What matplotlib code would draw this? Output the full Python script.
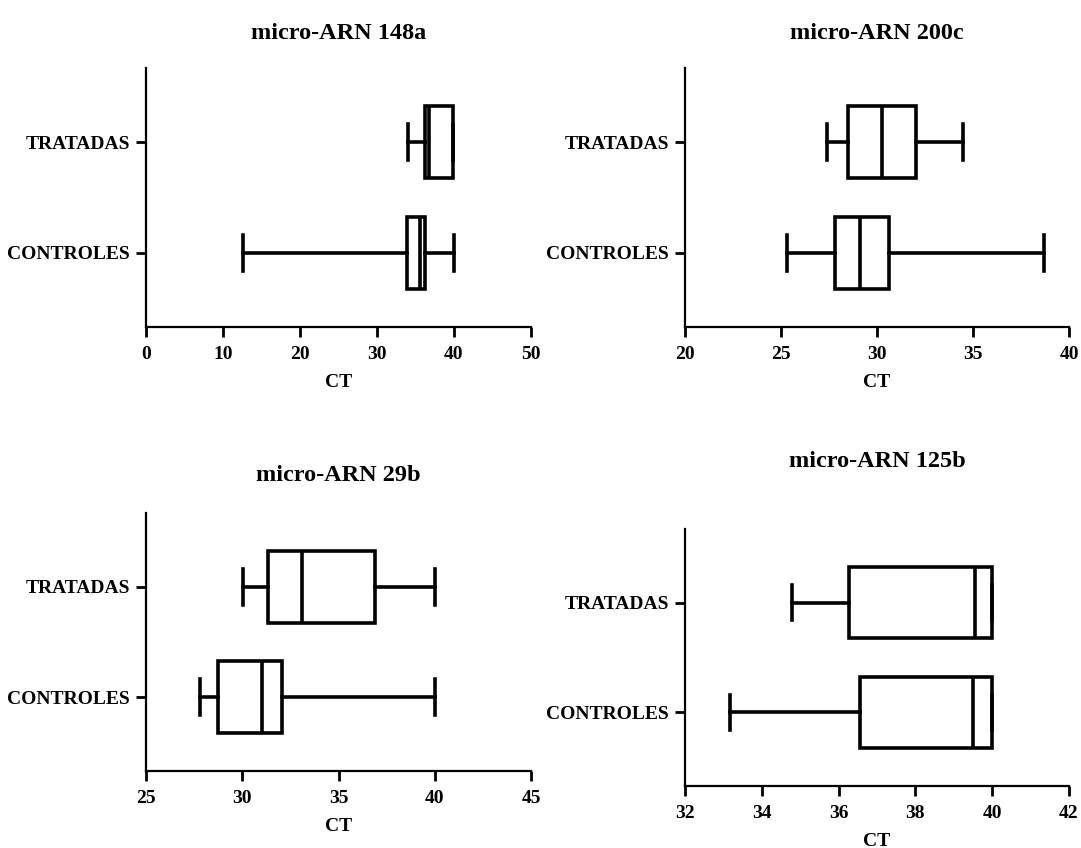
import matplotlib
matplotlib.use("Agg")
import matplotlib.pyplot as plt

plt.rcParams['font.family'] = ['Liberation Serif', 'DejaVu Serif']
plt.rcParams['font.weight'] = 'bold'

titles = ["micro-ARN 148a", "micro-ARN 200c", "micro-ARN 29b", "micro-ARN 125b"]
groups = ["CONTROLES", "TRATADAS"]

# per panel: [CONTROLES, TRATADAS]
whislo = [[12.6, 34.0], [25.3, 27.4], [27.8, 30.05], [33.18, 34.79]]
q1     = [[33.9, 36.2], [27.8, 28.5], [28.75, 31.35], [36.55, 36.27]]
med    = [[35.6, 36.8], [29.1, 30.25], [31.05, 33.1], [39.5, 39.55]]
q3     = [[36.2, 39.9], [30.6, 32.05], [32.05, 36.9], [40.0, 40.0]]
whishi = [[40.0, 39.9], [38.7, 34.5], [40.0, 40.0], [40.0, 40.0]]

xlims = [(0, 50), (20, 40), (25, 45), (32, 42)]
xticks = [[0, 10, 20, 30, 40, 50], [20, 25, 30, 35, 40], [25, 30, 35, 40, 45],
          [32, 34, 36, 38, 40, 42]]

W, H = 1081, 848
fig = plt.figure(figsize=(W / 100, H / 100), dpi=100)

# axes boxes in pixels: left, right, top, bottom
boxes_px = [(146, 531, 68, 327), (685, 1069, 68, 327),
            (146, 531, 513, 771), (685, 1069, 529, 786)]
title_base_px = [39, 39, 481, 467]

lw = 2.6
for i in range(4):
    l, r, t, b = boxes_px[i]
    ax = fig.add_axes([l / W, 1 - b / H, (r - l) / W, (b - t) / H])
    stats = []
    for g in range(2):
        stats.append(dict(whislo=whislo[i][g], q1=q1[i][g], med=med[i][g],
                          q3=q3[i][g], whishi=whishi[i][g], label=groups[g]))
    ax.bxp(stats, positions=[0, 1], widths=0.65, vert=False, showfliers=False,
           patch_artist=True, capwidths=0.32,
           boxprops=dict(facecolor='white', edgecolor='black', linewidth=lw),
           medianprops=dict(color='black', linewidth=lw),
           whiskerprops=dict(color='black', linewidth=lw),
           capprops=dict(color='black', linewidth=lw))
    ax.set_xlim(*xlims[i])
    ax.set_xticks(xticks[i])
    ax.set_ylim(-0.67, 1.67)
    ax.set_yticks([0, 1])
    ax.set_yticklabels(groups)
    for s in ['top', 'right']:
        ax.spines[s].set_visible(False)
    for s in ['left', 'bottom']:
        ax.spines[s].set_linewidth(1.6)
    ax.tick_params(axis='both', length=7.5, width=2, labelsize=14, pad=4)
    ax.tick_params(axis='x', pad=6)
    ax.set_xlabel("CT", fontsize=14, fontweight='bold', labelpad=8)
    for lab in ax.get_xticklabels() + ax.get_yticklabels():
        lab.set_fontweight('bold')
    fig.text((l + r) / 2 / W, 1 - title_base_px[i] / H, titles[i],
             ha='center', va='baseline', fontsize=17.5, fontweight='bold')

fig.savefig("out.png", dpi=100, facecolor='white')
